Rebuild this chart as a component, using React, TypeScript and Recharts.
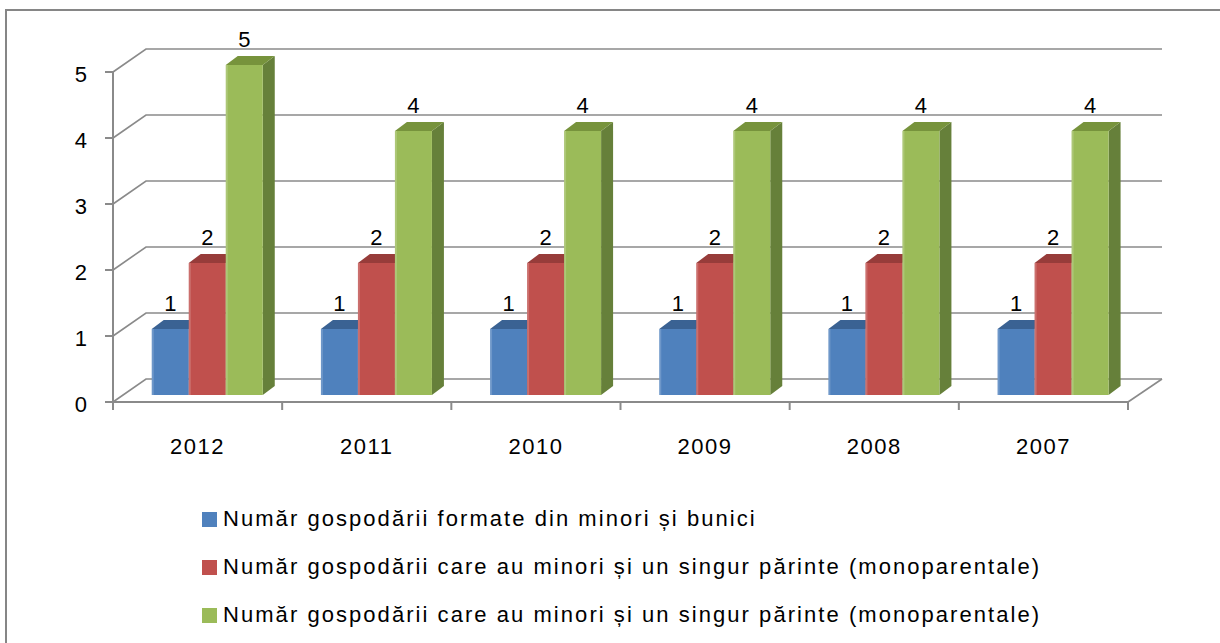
import React from 'react';
import { BarChart, Bar, XAxis, YAxis, CartesianGrid, Legend, LabelList } from 'recharts';

const categories = ['2012', '2011', '2010', '2009', '2008', '2007'];
const seriesNames = [
  'Număr gospodării formate din minori și bunici',
  'Număr gospodării care au minori și un singur părinte (monoparentale)',
  'Număr gospodării care au minori și un singur părinte (monoparentale)',
];
const bunici = [1, 1, 1, 1, 1, 1];
const monoA = [2, 2, 2, 2, 2, 2];
const monoB = [5, 4, 4, 4, 4, 4];
const yTicks = [0, 1, 2, 3, 4, 5];
const colors = ['#4F81BD', '#C0504D', '#9BBB59'];
const topColors = ['#3A6293', '#973C3A', '#77933C'];
const sideColors = ['#345884', '#87302E', '#66803A'];
const seriesKeys = ['s0', 's1', 's2'];

const data = categories.map((c, i) => ({ cat: c, s0: bunici[i], s1: monoA[i], s2: monoB[i] }));

const FONT = '"Liberation Sans", Arial, sans-serif';
const DX = 10; // front face shift (3D)
const DY = 7;
const DEPTH_X = 12;
const DEPTH_Y = 9;
const WALL_X = 33;
const WALL_Y = 23;
const GRID = '#8A8A8A';

const makeShape = (si: number) => (props: any) => {
  const { x, y, width, height } = props;
  if (width == null || height == null) return null;
  const fx = x + DX;
  const fy = y - DY;
  const top = `${fx},${fy} ${fx + DEPTH_X},${fy - DEPTH_Y} ${fx + width + DEPTH_X},${fy - DEPTH_Y} ${fx + width},${fy}`;
  const side = `${fx + width},${fy} ${fx + width + DEPTH_X},${fy - DEPTH_Y} ${fx + width + DEPTH_X},${fy + height - DEPTH_Y} ${fx + width},${fy + height}`;
  return (
    <g>
      <polygon points={side} fill={sideColors[si]} />
      <polygon points={top} fill={topColors[si]} />
      <rect x={fx} y={fy} width={width} height={height} fill={colors[si]} />
      <rect x={fx} y={fy} width={2} height={height} fill="#ffffff" opacity={0.18} />
    </g>
  );
};

const makeLabel = () => (props: any) => {
  const { x, y, width, value } = props;
  return (
    <text x={x + DX + width / 2} y={y - DY - 18} textAnchor="middle" fontFamily={FONT} fontSize={22} fill="#000">
      {value}
    </text>
  );
};

const gridLine = (props: any) => {
  const { x1, y1, x2, key } = props;
  const d = `M${x1},${y1} L${x1 + WALL_X},${y1 - WALL_Y} L${x2 + WALL_X + 1},${y1 - WALL_Y}`;
  return <path key={key} d={d} stroke={GRID} strokeWidth={1.6} fill="none" />;
};

const XTick = (props: any) => {
  const { x, y, payload, index, visibleTicksCount, width } = props;
  const band = width / visibleTicksCount;
  const axisY = y - 10;
  const left = x - band / 2;
  const right = x + band / 2;
  return (
    <g>
      <line x1={left} y1={axisY} x2={left} y2={axisY + 8} stroke={GRID} strokeWidth={2} />
      {index === visibleTicksCount - 1 && (
        <g>
          <line x1={right} y1={axisY} x2={right} y2={axisY + 8} stroke={GRID} strokeWidth={2} />
          <line x1={right} y1={axisY} x2={right + WALL_X + 1} y2={axisY - WALL_Y} stroke={GRID} strokeWidth={1.6} />
        </g>
      )}
      <text x={x} y={y + 42} textAnchor="middle" fontFamily={FONT} fontSize={22} letterSpacing={1.5} fill="#000">
        {payload.value}
      </text>
    </g>
  );
};

const YTick = (props: any) => {
  const { x, y, payload } = props;
  return (
    <text x={x} y={y + 10} textAnchor="end" fontFamily={FONT} fontSize={22} fill="#000">
      {payload.value}
    </text>
  );
};

const renderLegend = (props: any) => {
  const payload = [...(props.payload || [])].sort(
    (a: any, b: any) => seriesKeys.indexOf(a.dataKey) - seriesKeys.indexOf(b.dataKey)
  );
  return (
    <div style={{ position: 'relative' }}>
      {payload.map((p: any, i: number) => (
        <div
          key={i}
          style={{
            position: 'absolute',
            left: 0,
            top: i * 48,
            height: 24,
            display: 'flex',
            alignItems: 'center',
            whiteSpace: 'nowrap',
          }}
        >
          <span style={{ display: 'inline-block', width: 15, height: 15, background: p.color, marginRight: 6 }} />
          <span style={{ fontFamily: FONT, fontSize: 22, letterSpacing: '2.05px', color: '#000' }}>{p.value}</span>
        </div>
      ))}
    </div>
  );
};

export default function App() {
  return (
    <div style={{ position: 'fixed', left: 0, top: 0, width: 1220, height: 643, overflow: 'hidden', background: '#fff' }}>
      <div
        style={{
          position: 'absolute',
          left: 5,
          top: 9,
          width: 1300,
          height: 800,
          border: '2.5px solid #868686',
        }}
      />
      <div style={{ position: 'absolute', left: 0, top: 0 }}>
        <BarChart
          width={1220}
          height={643}
          data={data}
          margin={{ top: 72, right: 92, bottom: 211, left: 53 }}
          barCategoryGap="17%"
          barGap={0}
        >
          <CartesianGrid vertical={false} horizontal={gridLine} />
          <XAxis
            dataKey="cat"
            height={30}
            tickLine={false}
            tickSize={8}
            tickMargin={2}
            axisLine={{ stroke: GRID, strokeWidth: 2 }}
            tick={<XTick />}
            interval={0}
          />
          <YAxis
            width={60}
            domain={[0, 5]}
            ticks={yTicks}
            tickSize={8}
            tickMargin={18}
            tickLine={{ stroke: GRID, strokeWidth: 2 }}
            axisLine={{ stroke: GRID, strokeWidth: 2 }}
            tick={<YTick />}
            interval={0}
          />
          <Legend
            layout="horizontal"
            verticalAlign="middle"
            align="center"
            content={renderLegend}
            wrapperStyle={{ position: 'absolute', left: 202, top: 507, width: 1000, height: 130 }}
          />
          <Bar dataKey="s0" name={seriesNames[0]} fill={colors[0]} shape={makeShape(0)} isAnimationActive={false}>
            <LabelList dataKey="s0" content={makeLabel()} />
          </Bar>
          <Bar dataKey="s1" name={seriesNames[1]} fill={colors[1]} shape={makeShape(1)} isAnimationActive={false}>
            <LabelList dataKey="s1" content={makeLabel()} />
          </Bar>
          <Bar dataKey="s2" name={seriesNames[2]} fill={colors[2]} shape={makeShape(2)} isAnimationActive={false}>
            <LabelList dataKey="s2" content={makeLabel()} />
          </Bar>
        </BarChart>
      </div>
    </div>
  );
}
